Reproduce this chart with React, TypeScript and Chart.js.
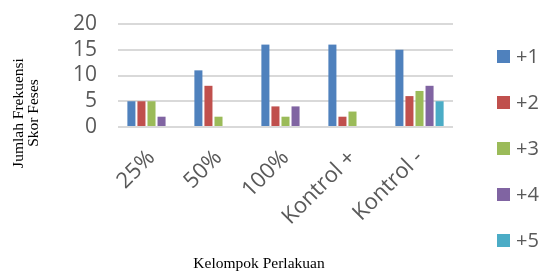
import React, { useEffect, useRef } from "react";
import { Chart, registerables } from "chart.js";

Chart.register(...registerables);

const categories = ["25%", "50%", "100%", "Kontrol +", "Kontrol -"];
const seriesNames = ["+1", "+2", "+3", "+4", "+5"];
const s1 = [5, 11, 16, 16, 15];
const s2 = [5, 8, 4, 2, 6];
const s3 = [5, 2, 2, 3, 7];
const s4 = [2, 0, 4, 0, 8];
const s5 = [0, 0, 0, 0, 5];
const colors = ["#4F81BD", "#C0504D", "#9BBB59", "#8064A2", "#4BACC6"];
const yTitleLines = ["Jumlah Frekuensi", "Skor Feses"];
const xTitle = "Kelompok Perlakuan";

const titlesAndLegend = {
  id: "titlesAndLegend",
  afterDraw(chart: any) {
    const ctx = chart.ctx;
    ctx.save();
    // y title
    ctx.fillStyle = "#000";
    ctx.font = "15.5px 'Liberation Serif', 'Times New Roman', serif";
    ctx.textAlign = "center";
    ctx.textBaseline = "middle";
    ctx.save();
    ctx.translate(26, 113);
    ctx.rotate(-Math.PI / 2);
    ctx.fillText(yTitleLines[0], 0, -7);
    ctx.fillText(yTitleLines[1], 0, 8);
    ctx.restore();
    // x title
    ctx.font = "15.5px 'Liberation Serif', 'Times New Roman', serif";
    ctx.textBaseline = "alphabetic";
    ctx.fillText(xTitle, 259, 268);
    // legend
    ctx.font = "20px 'Open Sans'";
    ctx.textAlign = "left";
    ctx.textBaseline = "middle";
    chart.data.datasets.forEach((ds: any, i: number) => {
      const cy = 56.5 + i * 46;
      ctx.fillStyle = ds.backgroundColor;
      ctx.fillRect(497, cy - 6.5, 13, 13);
      ctx.fillStyle = "#595959";
      ctx.fillText(ds.label, 516, cy + 1);
    });
    ctx.restore();
  },
};

export default function App() {
  const ref = useRef<HTMLCanvasElement>(null);
  useEffect(() => {
    document.body.style.margin = "0";
    const values = [s1, s2, s3, s4, s5];
    const chart = new Chart(ref.current!, {
      type: "bar",
      data: {
        labels: categories,
        datasets: seriesNames.map((n, i) => ({
          label: n,
          data: values[i],
          backgroundColor: colors[i],
          barPercentage: 0.8,
          categoryPercentage: 0.75,
        })),
      },
      options: {
        animation: false,
        responsive: true,
        maintainAspectRatio: false,
        layout: { padding: { left: 0, right: 89, top: 24, bottom: 0 } },
        plugins: { legend: { display: false }, tooltip: { enabled: false } },
        scales: {
          x: {
            grid: { display: false, drawTicks: false },
            border: { display: false },
            ticks: {
              color: "#595959",
              font: { family: "'Open Sans'", size: 22 },
              maxRotation: 45,
              minRotation: 45,
              padding: 18,
              autoSkip: false,
            },
            afterFit(scale: any) {
              scale.height = 146;
            },
          },
          y: {
            min: 0,
            max: 20,
            grid: {
              color: "#d9d9d9",
              lineWidth: 2,
              drawTicks: true,
              tickLength: 18,
              tickColor: "rgba(0,0,0,0)",
            },
            border: { display: false },
            ticks: {
              stepSize: 5,
              autoSkip: false,
              color: "#595959",
              font: { family: "'Open Sans'", size: 21 },
              padding: 3,
            },
            afterFit(scale: any) {
              scale.width = 118;
            },
          },
        },
      },
      plugins: [titlesAndLegend],
    });
    return () => chart.destroy();
  }, []);
  return (
    <div style={{ width: 542, height: 273, position: "relative" }}>
      <canvas ref={ref} />
    </div>
  );
}
